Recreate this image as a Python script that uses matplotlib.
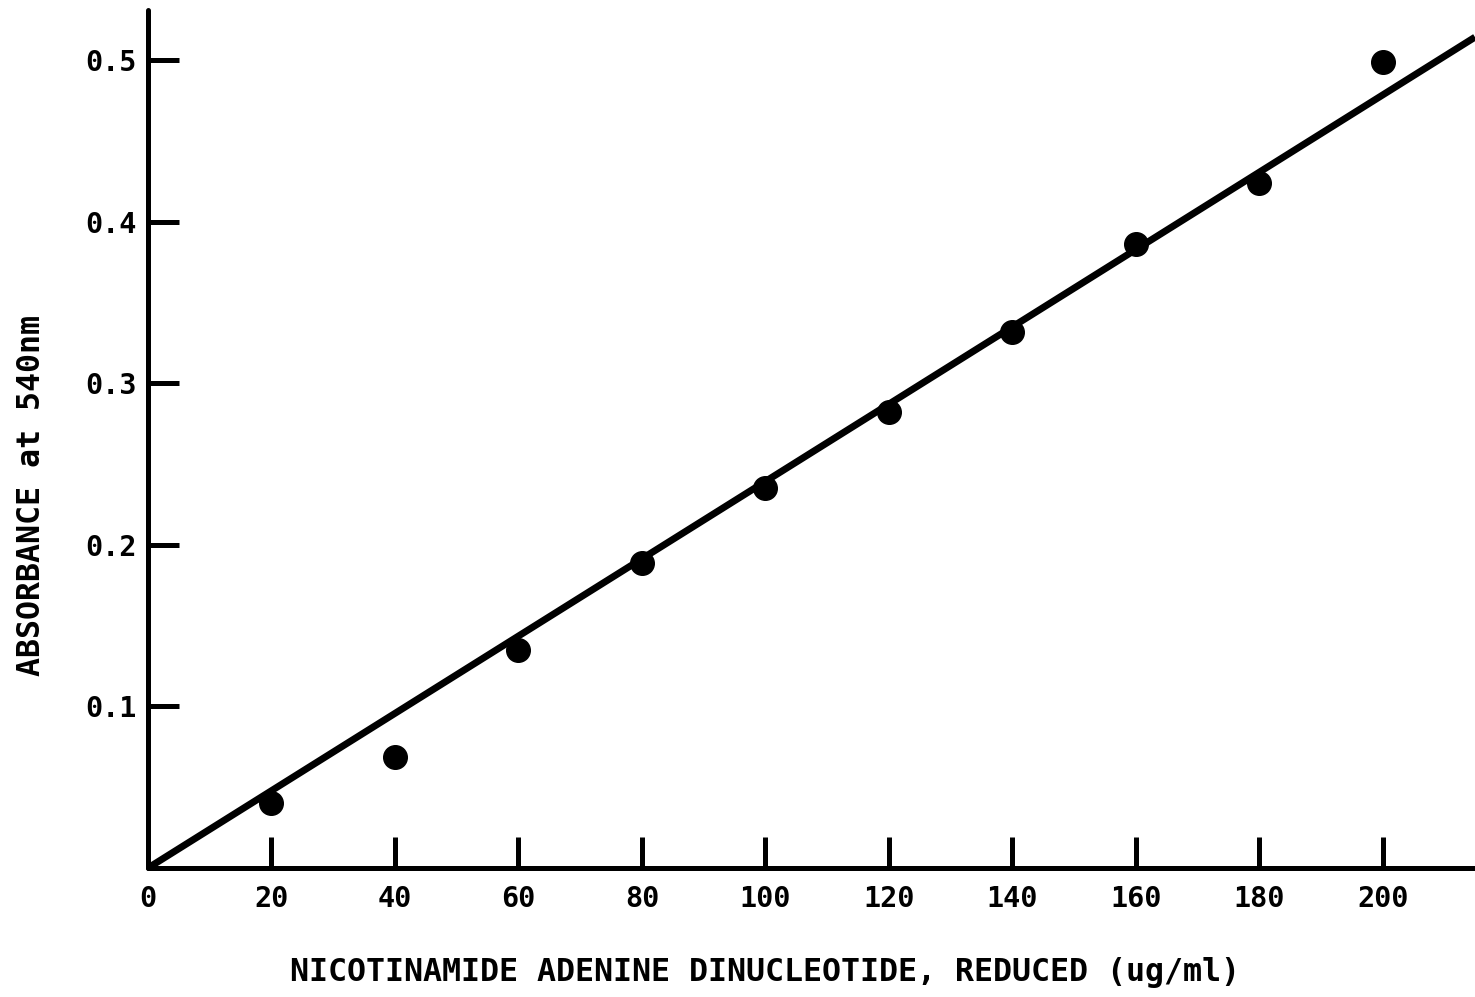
import numpy as np
import matplotlib
matplotlib.use("Agg")
import matplotlib.pyplot as plt

# NADH standard curve: concentration (ug/ml) vs absorbance at 540 nm
concentration = [20, 40, 60, 80, 100, 120, 140, 160, 180, 200]
absorbance = [0.040, 0.069, 0.135, 0.189, 0.235, 0.282, 0.332, 0.386, 0.424, 0.499]

x_ticks = [0, 20, 40, 60, 80, 100, 120, 140, 160, 180, 200]
y_ticks = [0.1, 0.2, 0.3, 0.4, 0.5]
x_tick_labels = ["0", "20", "40", "60", "80", "100", "120", "140", "160", "180", "200"]
y_tick_labels = ["0.1", "0.2", "0.3", "0.4", "0.5"]

xlabel = "NICOTINAMIDE ADENINE DINUCLEOTIDE, REDUCED (ug/ml)"
ylabel = "ABSORBANCE at 540nm"

FONT = {"family": "DejaVu Sans Mono", "weight": "bold"}

fig = plt.figure(figsize=(14.75, 9.97), dpi=100)
ax = fig.add_axes([148 / 1475, 129 / 997, 1 - 148 / 1475, 858 / 997])

xmax, ymax = 214.9, 0.531
ax.set_xlim(0, xmax)
ax.set_ylim(0, ymax)

# least-squares line through the origin
xs = np.array(concentration, dtype=float)
ys = np.array(absorbance, dtype=float)
slope = np.sum(xs * ys) / np.sum(xs * xs)
xl = np.array([0.0, xmax])
ax.plot(xl, slope * xl, color="black", lw=5.0, solid_capstyle="butt", clip_on=False, zorder=3)

ax.plot(concentration, absorbance, "o", color="black", markersize=17, zorder=4, clip_on=False)

for side in ("top", "right"):
    ax.spines[side].set_visible(False)
for side in ("left", "bottom"):
    ax.spines[side].set_linewidth(3.6)
    ax.spines[side].set_capstyle("round")

ax.set_xticks(x_ticks)
ax.set_xticklabels(x_tick_labels, fontsize=20.5, **FONT)
ax.set_yticks(y_ticks)
ax.set_yticklabels(y_tick_labels, fontsize=20.5, **FONT)
ax.tick_params(axis="x", direction="in", length=22, width=3.6, pad=12)
ax.tick_params(axis="y", direction="in", length=22, width=3.6, pad=8)

fig.text(765 / 1475, 1 - 972 / 997, xlabel, ha="center", va="center", fontsize=22.8, **FONT)
fig.text(32 / 1475, 1 - 495 / 997, ylabel, ha="center", va="center", rotation=90, fontsize=22.8, **FONT)

fig.savefig("out.png", dpi=100)
